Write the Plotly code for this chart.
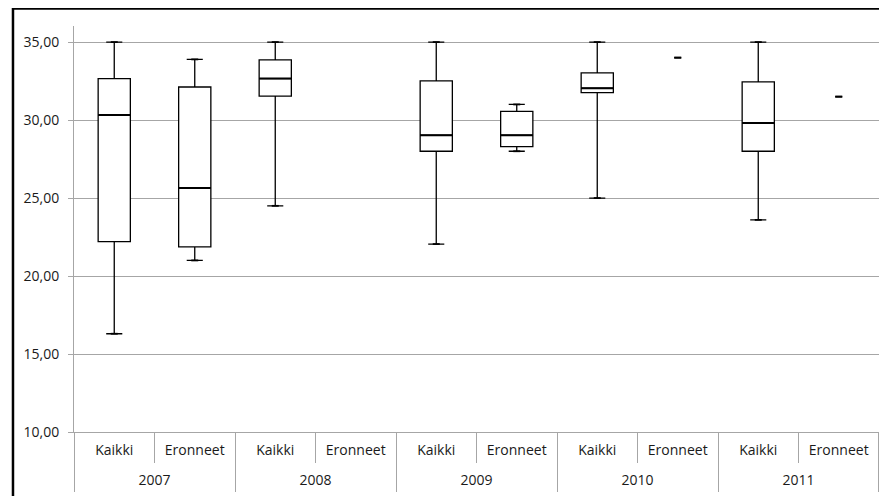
"""Laatikkokuvaajat 2007-2011: Kaikki vs Eronneet -> HTML."""
import plotly.graph_objects as go

vuodet = ["2007", "2007", "2008", "2008", "2009", "2009", "2010", "2010", "2011", "2011"]
ryhmat = ["Kaikki", "Eronneet"] * 5

# tunnusluvut luettu kuvasta (None = ei havaintoja)
minimi = [16.3, 21.0, 24.5, None, 22.05, 28.0, 25.0, 34.0, 23.6, 31.5]
q1 = [22.2, 21.87, 31.53, None, 28.0, 28.29, 31.76, 34.0, 28.0, 31.5]
mediaani = [30.32, 25.65, 32.66, None, 29.03, 29.03, 32.04, 34.0, 29.81, 31.5]
q3 = [32.66, 32.12, 33.86, None, 32.51, 30.56, 33.03, 34.0, 32.45, 31.5]
maksimi = [35.0, 33.89, 35.0, None, 35.0, 31.0, 35.0, 34.0, 35.0, 31.5]

FONT = "Open Sans"
GRID = "#a6a6a6"
n = len(vuodet)
pos = list(range(n))
vuosilista = sorted(set(vuodet))
vuosikeskus = [sum(i for i in pos if vuodet[i] == v) / vuodet.count(v) for v in vuosilista]
# viimeinen raja hieman sisäpuolelle, jotta se piirtyy
vuosiraja = [-0.5] + [i + 0.5 for i in pos[:-1] if vuodet[i] != vuodet[i + 1]] + [n - 0.502]
sisaraja = [i + 0.5 for i in pos[:-1] if vuodet[i] == vuodet[i + 1]]

# varsinaiset laatikot vain niille, joilla on hajontaa
idx = [i for i in pos if q1[i] is not None and q3[i] > q1[i]]

fig = go.Figure()
fig.add_box(
    x=idx,
    q1=[q1[i] for i in idx], median=[mediaani[i] for i in idx], q3=[q3[i] for i in idx],
    lowerfence=[minimi[i] for i in idx], upperfence=[maksimi[i] for i in idx],
    width=0.4, fillcolor="white", line=dict(color="black", width=1.3),
    boxpoints=False, hoverinfo="skip", showlegend=False,
)
# mediaaniviiva hieman paksumpana (vuosiakselilla, jotta se piirretään)
fig.add_scatter(
    x=idx, y=[mediaani[i] for i in idx], xaxis="x2",
    mode="markers", marker=dict(symbol="line-ew", size=23, line=dict(color="black", width=2)),
    hoverinfo="skip", showlegend=False,
)
# viiksien päätyviivat (myös yksittäiset arvot)
for arvot in (minimi, maksimi):
    fig.add_scatter(
        x=pos, y=arvot, mode="markers",
        marker=dict(symbol="line-ew", size=5, line=dict(color="black", width=1.8)),
        hoverinfo="skip", showlegend=False,
    )

# sivun reunaviivat
fig.add_shape(type="line", xref="paper", yref="paper", x0=-0.0758, x1=-0.0758, y0=-0.3, y1=1.06,
              line=dict(color="black", width=2.5))
fig.add_shape(type="line", xref="paper", yref="paper", x0=-0.0758, x1=1.03, y0=1.0431, y1=1.0431,
              line=dict(color="black", width=2.5))

fig.update_layout(
    width=887, height=496, margin=dict(l=66, r=16, t=18, b=72),
    plot_bgcolor="white", paper_bgcolor="white", separators=", ",
    font=dict(family=FONT, size=14, color="#1a1a1a"),
    # ryhmät + lyhyet jakoviivat
    xaxis=dict(
        range=[-0.5, n - 0.5], showgrid=False, zeroline=False, showline=True,
        linecolor=GRID, linewidth=1,
        tickmode="array", tickvals=pos, ticktext=ryhmat, ticks="outside", ticklen=0,
        ticklabelstandoff=5,
        minor=dict(tickmode="array", tickvals=sisaraja, ticks="outside", ticklen=30,
                   tickcolor=GRID, tickwidth=1, showgrid=False),
        tickfont=dict(family=FONT, size=14),
    ),
    # vuodet + pitkät jakoviivat
    xaxis2=dict(
        overlaying="x", anchor="y", side="bottom", range=[-0.5, n - 0.5],
        tickmode="array", tickvals=vuosikeskus, ticktext=vuosilista, ticks="outside", ticklen=0,
        ticklabelstandoff=35,
        minor=dict(tickmode="array", tickvals=vuosiraja, ticks="outside", ticklen=59,
                   tickcolor=GRID, tickwidth=1, showgrid=False),
        showgrid=False, zeroline=False, showline=False, tickfont=dict(family=FONT, size=14),
    ),
    yaxis=dict(
        range=[10, 36.03], dtick=5, tickformat=".2f", showgrid=True, gridcolor=GRID, gridwidth=1,
        showline=True, linecolor=GRID, ticks="outside", ticklen=5, tickcolor=GRID,
        ticklabelstandoff=6, zeroline=False, tickfont=dict(family=FONT, size=14),
    ),
)
fig.write_html("out.html")
